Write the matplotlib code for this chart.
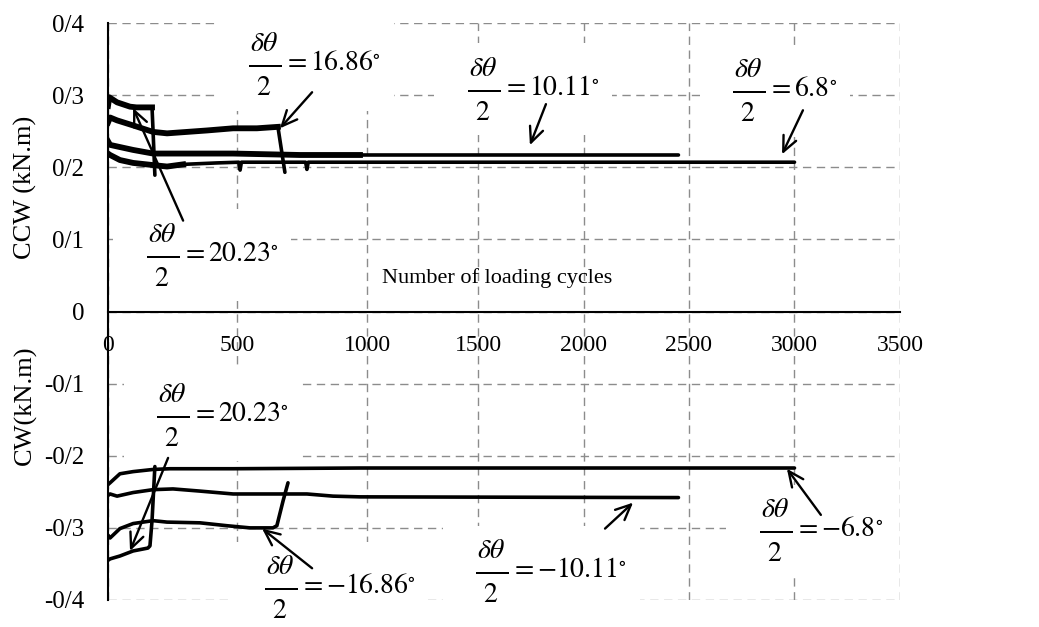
import numpy as np
import matplotlib
matplotlib.use("Agg")
import matplotlib.pyplot as plt

plt.rcParams["font.family"] = ["Liberation Serif", "DejaVu Serif"]
plt.rcParams["mathtext.fontset"] = "stix"

# cycle axis is drawn piecewise: the first 1000 cycles get more room
SCALE_CYCLES = [0, 1000, 1500, 3500]
SCALE_UNITS = [0, 259, 370, 792]

# CCW moment (kN.m) against loading cycles
ccw_2023_x = [0, 5, 35, 85, 110, 170, 174, 181]
ccw_2023_y = [0.285, 0.297, 0.290, 0.284, 0.283, 0.283, 0.250, 0.189]
ccw_1686_x = [0, 8, 35, 97, 174, 228, 305, 382, 483, 575, 656, 683]
ccw_1686_y = [0.262, 0.269, 0.265, 0.258, 0.249, 0.247, 0.249, 0.251, 0.254, 0.254, 0.256, 0.193]
ccw_1011_x = [0, 8, 46, 97, 174, 290, 483, 614, 741, 973, 2450]
ccw_1011_y = [0.236, 0.231, 0.228, 0.224, 0.219, 0.219, 0.219, 0.218, 0.217, 0.217, 0.217]
ccw_68_x = [0, 8, 46, 97, 174, 228, 290, 421, 505, 510, 515, 614, 763, 768, 773, 973, 3000]
ccw_68_y = [0.219, 0.217, 0.210, 0.206, 0.203, 0.201, 0.204, 0.206, 0.207, 0.196, 0.207,
            0.207, 0.207, 0.197, 0.207, 0.207, 0.207]
# cycles up to which each CCW trace is noisy (drawn as a thicker band)
ccw_noisy_until = [170, 656, 973, 300]

# CW moment (kN.m) against loading cycles
cw_68_x = [0, 8, 46, 97, 174, 239, 483, 973, 3000]
cw_68_y = [-0.240, -0.2375, -0.225, -0.222, -0.219, -0.218, -0.218, -0.217, -0.217]
cw_1011_x = [0, 8, 35, 97, 174, 251, 355, 483, 676, 768, 869, 973, 2450]
cw_1011_y = [-0.255, -0.253, -0.256, -0.251, -0.247, -0.246, -0.249, -0.253, -0.253, -0.253, -0.256, -0.257, -0.258]
cw_1686_x = [0, 8, 46, 97, 174, 228, 355, 459, 548, 637, 652, 676, 695]
cw_1686_y = [-0.310, -0.314, -0.301, -0.294, -0.290, -0.292, -0.293, -0.297, -0.300, -0.300, -0.297, -0.2625, -0.2375]
cw_2023_x = [0, 8, 46, 97, 154, 162, 170, 181]
cw_2023_y = [-0.345, -0.343, -0.339, -0.332, -0.328, -0.325, -0.290, -0.215]

x_ticks = [0, 500, 1000, 1500, 2000, 2500, 3000, 3500]
y_ticks = [-0.4, -0.3, -0.2, -0.1, 0, 0.1, 0.2, 0.3, 0.4]
y_tick_labels = ["-0/4", "-0/3", "-0/2", "-0/1", "0", "0/1", "0/2", "0/3", "0/4"]

angle_labels = ["16.86", "20.23", "10.11", "6.8", "20.23", "-16.86", "-10.11", "-6.8"]
label_x = [760, 363, 1714, 2908, 405, 857, 1799, 3078]
label_y = [0.342, 0.078, 0.308, 0.306, -0.144, -0.383, -0.361, -0.304]
arrow_tail_x = [788, 290, 1822, 3040, 232, 788, 2102, 3125]
arrow_tail_y = [0.304, 0.126, 0.2875, 0.279, -0.203, -0.356, -0.301, -0.282]
arrow_head_x = [664, 97, 1746, 2941, 85, 595, 2235, 2964]
arrow_head_y = [0.254, 0.282, 0.2306, 0.218, -0.332, -0.301, -0.265, -0.218]


def fwd(v):
    return np.interp(v, SCALE_CYCLES, SCALE_UNITS)


def inv(v):
    return np.interp(v, SCALE_UNITS, SCALE_CYCLES)


fig = plt.figure(figsize=(10.39, 6.27), dpi=100)
ax = fig.add_axes([108 / 1039, 27 / 627, 792 / 1039, 577 / 627])
ax.set_xscale("function", functions=(fwd, inv))
ax.set_xlim(0, 3500)
ax.set_ylim(-0.4, 0.4)

ccw = [(ccw_2023_x, ccw_2023_y), (ccw_1686_x, ccw_1686_y),
       (ccw_1011_x, ccw_1011_y), (ccw_68_x, ccw_68_y)]
cw = [(cw_68_x, cw_68_y), (cw_1011_x, cw_1011_y),
      (cw_1686_x, cw_1686_y), (cw_2023_x, cw_2023_y)]

for (cx, cy), lim in zip(ccw, ccw_noisy_until):
    ax.plot(cx, cy, color="black", lw=2.6, solid_capstyle="round", zorder=3)
    cx = np.array(cx)
    keep = cx <= lim
    ax.plot(cx[keep], np.array(cy)[keep], color="black", lw=4.2, zorder=3)
for cx, cy in cw:
    ax.plot(cx, cy, color="black", lw=2.6, solid_capstyle="round", zorder=3)

ax.set_xticks(x_ticks)
ax.set_xticklabels([str(t) for t in x_ticks])
ax.set_yticks(y_ticks)
ax.set_yticklabels(y_tick_labels)
ax.tick_params(length=0, labelsize=17)
ax.tick_params(axis="x", pad=17)
ax.tick_params(axis="y", pad=17, labelsize=18)

ax.grid(True, color="#8c8c8c", linestyle=(0, (6, 4)), linewidth=1.0)
ax.set_axisbelow(True)
ax.spines["top"].set_visible(False)
ax.spines["right"].set_visible(False)
ax.spines["bottom"].set_position(("data", 0))
ax.spines["left"].set_linewidth(1.5)
ax.spines["bottom"].set_linewidth(1.5)

# empty inner fractions open up the gap above and below the bar
num = r"\hspace{0.1}\genfrac{}{}{0}{0}{\delta\theta}{\,}"
den = r"\hspace{0.1}\genfrac{}{}{0}{0}{\,}{2}"
for lab, tx, ty in zip(angle_labels, label_x, label_y):
    s = r"$\quad\genfrac{}{}{2.5}{0}{%s}{%s} = %s^{\circ}\quad$" % (num, den, lab)
    ax.text(tx, ty, s, ha="center", va="center", fontsize=20, zorder=2.7,
            bbox=dict(boxstyle="square,pad=0.45", fc="white", ec="none"))

for x0, y0, x1, y1 in zip(arrow_tail_x, arrow_tail_y, arrow_head_x, arrow_head_y):
    ax.annotate("", xy=(x1, y1), xytext=(x0, y0), zorder=4,
                arrowprops=dict(arrowstyle="->,head_length=1.1,head_width=0.5",
                                lw=1.7, color="black", shrinkA=0, shrinkB=0))

ax.text(1068, 0.047, "Number of loading cycles", ha="left", va="center", fontsize=16)

fig.text(25 / 1039, 1 - 187 / 627, "CCW (kN.m)", rotation=90, ha="center", va="center", fontsize=19)
fig.text(25 / 1039, 1 - 405 / 627, "CW(kN.m)", rotation=90, ha="center", va="center", fontsize=19)

fig.savefig("out.png", dpi=100)
